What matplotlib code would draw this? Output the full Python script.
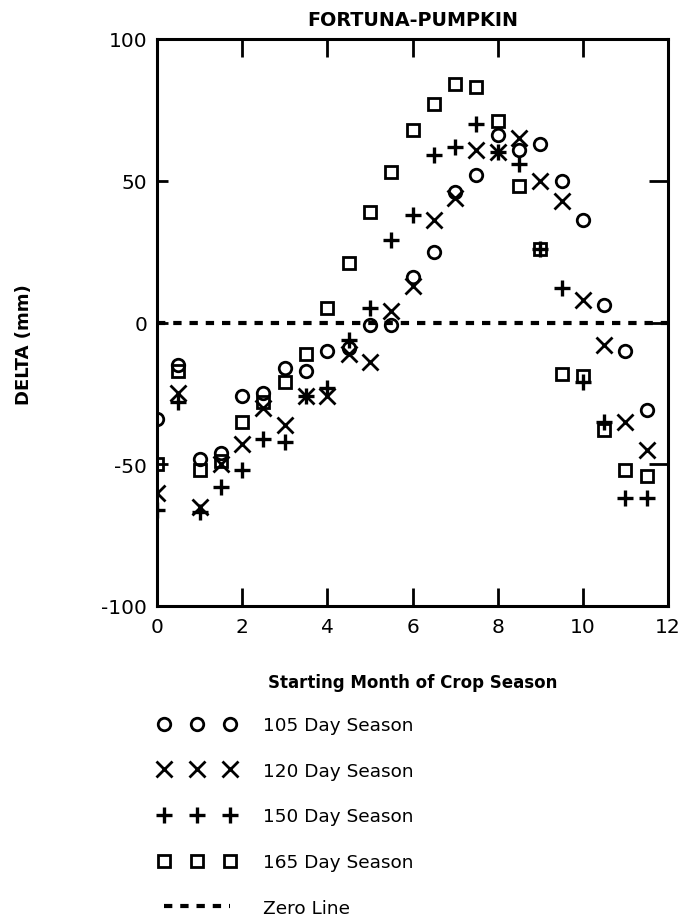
import numpy as np
import matplotlib.pyplot as plt
from matplotlib.lines import Line2D

# starting month of crop season (half-month steps)
start_month = [0, 0.5, 1, 1.5, 2, 2.5, 3, 3.5, 4, 4.5, 5, 5.5,
               6, 6.5, 7, 7.5, 8, 8.5, 9, 9.5, 10, 10.5, 11, 11.5]

# DELTA (mm), one list per season length
delta_105 = [-34, -15, -48, -46, -26, -25, -16, -17, -10, -9, -1, -1,
             16, 25, 46, 52, 66, 61, 63, 50, 36, 6, -10, -31]
delta_120 = [-60, -25, -65, -50, -43, -30, -36, -26, -26, -11, -14, 4,
             13, 36, 44, 61, 60, 65, 50, 43, 8, -8, -35, -45]
delta_150 = [-66, -28, -67, -58, -52, -41, -42, -26, -23, -6, 5, 29,
             38, 59, 62, 70, 60, 56, 26, 12, -21, -35, -62, -62]
delta_165 = [-50, -17, -52, -49, -35, -28, -21, -11, 5, 21, 39, 53,
             68, 77, 84, 83, 71, 48, 26, -18, -19, -38, -52, -54]

season_labels = ['105 Day Season', '120 Day Season', '150 Day Season', '165 Day Season']
x_ticks = [0, 2, 4, 6, 8, 10, 12]
y_ticks = [-100, -50, 0, 50, 100]

plt.rcParams['font.family'] = ['DejaVu Sans']
plt.rcParams['axes.unicode_minus'] = False

fig = plt.figure(figsize=(6.83, 9.2), dpi=100)
ax = fig.add_axes([157/683, 1 - 607/920, 511/683, 567/920])

mew = 2.0
l1, = ax.plot(start_month, delta_105, linestyle='none', marker='o', ms=9,
              mfc='none', mec='black', mew=mew)
l2, = ax.plot(start_month, delta_120, linestyle='none', marker='x', ms=11,
              color='black', mew=mew)
l3, = ax.plot(start_month, delta_150, linestyle='none', marker='+', ms=12,
              color='black', mew=2.4)
l4, = ax.plot(start_month, delta_165, linestyle='none', marker='s', ms=9,
              mfc='none', mec='black', mew=mew)

zero_style = (0, (2.0, 1.9))
ax.axhline(0, color='black', lw=3, linestyle=zero_style)

ax.set_xlim(0, 12)
ax.set_ylim(-100, 100)
ax.set_xticks(x_ticks)
ax.set_yticks(y_ticks)

for s in ax.spines.values():
    s.set_linewidth(2.2)

ax.tick_params(direction='in', top=True, right=True, width=2, labelsize=14.5)
ax.tick_params(axis='x', length=13, pad=8)
ax.tick_params(axis='y', length=8, pad=7)
for t in ax.yaxis.get_major_ticks():
    t.tick2line.set_markersize(14)

ax.set_title('FORTUNA-PUMPKIN', fontweight='bold', fontsize=13.8, pad=10)
ax.set_xlabel('Starting Month of Crop Season', fontweight='bold', fontsize=12)
ax.xaxis.set_label_coords(0.5, -0.118)
ax.set_ylabel('DELTA (mm)', fontweight='bold', fontsize=13)
ax.yaxis.set_label_coords(-0.243, 0.462)

zero_handle = Line2D([], [], color='black', lw=3, linestyle=zero_style)
fig.legend(handles=[l1, l2, l3, l4, zero_handle],
           labels=season_labels + ['Zero Line'],
           loc='upper left', bbox_to_anchor=(158/683, 1 - 717/920),
           frameon=False, numpoints=3, handlelength=4.2, handletextpad=1.5,
           labelspacing=1.5, borderpad=0, borderaxespad=0, fontsize=13.3)

fig.savefig('out.png', dpi=100)
